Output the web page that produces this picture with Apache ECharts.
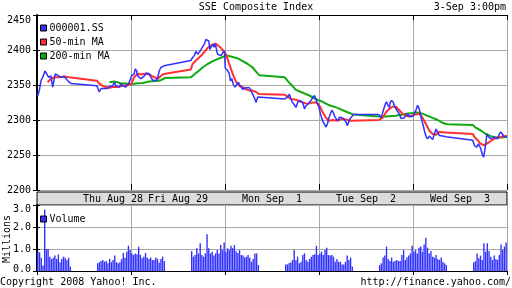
<!DOCTYPE html>
<html>
<head>
<meta charset="utf-8">
<script src="https://cdn.jsdelivr.net/npm/echarts@6/dist/echarts.min.js"></script>
<style>
  html, body { margin: 0; padding: 0; background: #fff; }
  #chart { width: 512px; height: 288px; }
</style>
</head>
<body>
<div id="chart"></div>
<script>
// trading days shown, session 09:30-15:00 (lunch 11:30-13:00)
const dayKeys = ["Thu", "Fri", "Mon", "Tue", "Wed"];
const dayLabels = ["Thu Aug 28", "Fri Aug 29", "Mon Sep  1", "Tue Sep  2", "Wed Sep  3"];
const priceTicks = [2200, 2250, 2300, 2350, 2400, 2450];
const volumeTicks = [0, 1, 2, 3];

// 000001.SS index level
const price = [
  ["Thu 09:30", 2338], ["Thu 09:33", 2335], ["Thu 09:38", 2342], ["Thu 09:44", 2356], ["Thu 09:52", 2363],
  ["Thu 09:58", 2370], ["Thu 10:04", 2366], ["Thu 10:11", 2361], ["Thu 10:19", 2363], ["Thu 10:25", 2347],
  ["Thu 10:34", 2366], ["Thu 10:39", 2368], ["Thu 10:46", 2363], ["Thu 10:54", 2361], ["Thu 11:06", 2362],
  ["Thu 11:12", 2361], ["Thu 11:18", 2356], ["Thu 11:23", 2354], ["Thu 11:30", 2352],
  ["Thu 13:00", 2349], ["Thu 13:09", 2340], ["Thu 13:15", 2345], ["Thu 13:20", 2347], ["Thu 13:26", 2345],
  ["Thu 13:32", 2347], ["Thu 13:38", 2345], ["Thu 13:44", 2348], ["Thu 13:50", 2347], ["Thu 13:56", 2349],
  ["Thu 14:01", 2354], ["Thu 14:07", 2349], ["Thu 14:13", 2347], ["Thu 14:19", 2347], ["Thu 14:25", 2352],
  ["Thu 14:31", 2349], ["Thu 14:37", 2351], ["Thu 14:42", 2347], ["Thu 14:48", 2349], ["Thu 14:54", 2354],
  ["Thu 15:00", 2352],
  ["Fri 09:32", 2363], ["Fri 09:36", 2361], ["Fri 09:41", 2366], ["Fri 09:45", 2373], ["Fri 09:50", 2370],
  ["Fri 09:53", 2363], ["Fri 09:59", 2361], ["Fri 10:05", 2359], ["Fri 10:11", 2361], ["Fri 10:17", 2363],
  ["Fri 10:23", 2367], ["Fri 10:29", 2365], ["Fri 10:34", 2366], ["Fri 10:40", 2361], ["Fri 10:46", 2357],
  ["Fri 10:52", 2355], ["Fri 10:58", 2356], ["Fri 11:04", 2361], ["Fri 11:09", 2370], ["Fri 11:15", 2375],
  ["Fri 11:21", 2377], ["Fri 11:30", 2378],
  ["Fri 13:00", 2385], ["Fri 13:06", 2389], ["Fri 13:12", 2392], ["Fri 13:18", 2398], ["Fri 13:24", 2394],
  ["Fri 13:30", 2397], ["Fri 13:36", 2401], ["Fri 13:41", 2399], ["Fri 13:47", 2408], ["Fri 13:53", 2415],
  ["Fri 13:59", 2415], ["Fri 14:03", 2413], ["Fri 14:07", 2401], ["Fri 14:11", 2404], ["Fri 14:17", 2408],
  ["Fri 14:22", 2404], ["Fri 14:26", 2409], ["Fri 14:31", 2399], ["Fri 14:34", 2394], ["Fri 14:40", 2396],
  ["Fri 14:46", 2392], ["Fri 14:52", 2396], ["Fri 14:58", 2399], ["Fri 15:00", 2399],
  ["Mon 09:31", 2374], ["Mon 09:39", 2371], ["Mon 09:45", 2366], ["Mon 09:49", 2356], ["Mon 09:54", 2359],
  ["Mon 09:59", 2351], ["Mon 10:05", 2347], ["Mon 10:11", 2349], ["Mon 10:17", 2354], ["Mon 10:20", 2351],
  ["Mon 10:26", 2349], ["Mon 10:32", 2344], ["Mon 10:38", 2342], ["Mon 10:44", 2346], ["Mon 10:50", 2344],
  ["Mon 10:56", 2346], ["Mon 11:01", 2342], ["Mon 11:07", 2337], ["Mon 11:13", 2332], ["Mon 11:19", 2325],
  ["Mon 11:25", 2333], ["Mon 11:30", 2332],
  ["Mon 13:00", 2330], ["Mon 13:04", 2332], ["Mon 13:10", 2333], ["Mon 13:16", 2337], ["Mon 13:21", 2330],
  ["Mon 13:27", 2325], ["Mon 13:33", 2322], ["Mon 13:39", 2318], ["Mon 13:45", 2325], ["Mon 13:51", 2328],
  ["Mon 13:57", 2329], ["Mon 14:03", 2325], ["Mon 14:09", 2316], ["Mon 14:14", 2320], ["Mon 14:20", 2320],
  ["Mon 14:26", 2325], ["Mon 14:32", 2328], ["Mon 14:38", 2332], ["Mon 14:44", 2335], ["Mon 14:49", 2330],
  ["Mon 14:55", 2323], ["Mon 15:00", 2318],
  ["Tue 09:31", 2318], ["Tue 09:35", 2309], ["Tue 09:40", 2302], ["Tue 09:45", 2297], ["Tue 09:51", 2295],
  ["Tue 09:55", 2290], ["Tue 10:00", 2295], ["Tue 10:04", 2302], ["Tue 10:09", 2304], ["Tue 10:15", 2314],
  ["Tue 10:20", 2311], ["Tue 10:24", 2306], ["Tue 10:30", 2302], ["Tue 10:36", 2299], ["Tue 10:42", 2304],
  ["Tue 10:47", 2306], ["Tue 10:53", 2303], ["Tue 10:59", 2302], ["Tue 11:05", 2297], ["Tue 11:09", 2292],
  ["Tue 11:14", 2297], ["Tue 11:19", 2302], ["Tue 11:26", 2305], ["Tue 11:30", 2308],
  ["Tue 13:00", 2308], ["Tue 13:08", 2303], ["Tue 13:11", 2305], ["Tue 13:16", 2314], ["Tue 13:23", 2323],
  ["Tue 13:27", 2326], ["Tue 13:32", 2321], ["Tue 13:37", 2318], ["Tue 13:40", 2325], ["Tue 13:45", 2328],
  ["Tue 13:51", 2325], ["Tue 13:54", 2321], ["Tue 14:00", 2316], ["Tue 14:06", 2314], ["Tue 14:12", 2309],
  ["Tue 14:18", 2302], ["Tue 14:23", 2301], ["Tue 14:29", 2303], ["Tue 14:35", 2306], ["Tue 14:41", 2309],
  ["Tue 14:47", 2305], ["Tue 14:53", 2303], ["Tue 15:00", 2305],
  ["Wed 09:35", 2309], ["Wed 09:40", 2314], ["Wed 09:46", 2321], ["Wed 09:50", 2318], ["Wed 09:55", 2311],
  ["Wed 09:59", 2302], ["Wed 10:04", 2295], ["Wed 10:10", 2285], ["Wed 10:16", 2276], ["Wed 10:21", 2273],
  ["Wed 10:27", 2277], ["Wed 10:33", 2278], ["Wed 10:39", 2272], ["Wed 10:45", 2280], ["Wed 10:51", 2287],
  ["Wed 10:56", 2288], ["Wed 11:02", 2278], ["Wed 11:14", 2277], ["Wed 11:26", 2276], ["Wed 11:30", 2276],
  ["Wed 13:00", 2271], ["Wed 13:05", 2264], ["Wed 13:08", 2266], ["Wed 13:13", 2261], ["Wed 13:20", 2266],
  ["Wed 13:25", 2268], ["Wed 13:28", 2259], ["Wed 13:34", 2250], ["Wed 13:38", 2247], ["Wed 13:42", 2257],
  ["Wed 13:46", 2268], ["Wed 13:49", 2280], ["Wed 13:55", 2276], ["Wed 14:00", 2278], ["Wed 14:03", 2273],
  ["Wed 14:09", 2271], ["Wed 14:15", 2276], ["Wed 14:21", 2278], ["Wed 14:27", 2273], ["Wed 14:33", 2280],
  ["Wed 14:38", 2283], ["Wed 14:44", 2280], ["Wed 14:50", 2276], ["Wed 14:56", 2276], ["Wed 15:00", 2276]
];

// 50-min moving average
const ma50 = [
  ["Thu 10:07", 2354], ["Thu 10:19", 2359], ["Thu 10:31", 2361], ["Thu 10:48", 2361], ["Thu 11:06", 2362],
  ["Thu 11:23", 2361], ["Thu 11:30", 2360], ["Thu 13:00", 2356], ["Thu 13:09", 2352], ["Thu 13:20", 2349],
  ["Thu 13:32", 2347], ["Thu 13:44", 2346], ["Thu 13:56", 2347], ["Thu 14:13", 2347], ["Thu 14:31", 2349],
  ["Thu 14:48", 2350], ["Thu 15:00", 2351],
  ["Fri 09:41", 2361], ["Fri 09:53", 2366], ["Fri 10:05", 2365], ["Fri 10:17", 2366], ["Fri 10:34", 2365],
  ["Fri 10:52", 2361], ["Fri 11:04", 2359], ["Fri 11:21", 2365], ["Fri 11:30", 2366], ["Fri 13:00", 2372],
  ["Fri 13:06", 2380], ["Fri 13:18", 2385], ["Fri 13:41", 2394], ["Fri 13:59", 2403], ["Fri 14:17", 2408],
  ["Fri 14:28", 2409], ["Fri 14:46", 2403], ["Fri 14:58", 2397], ["Fri 15:00", 2396],
  ["Mon 09:33", 2394], ["Mon 09:45", 2380], ["Mon 09:57", 2366], ["Mon 10:09", 2354], ["Mon 10:20", 2349],
  ["Mon 10:32", 2347], ["Mon 10:44", 2344], ["Mon 10:56", 2342], ["Mon 11:07", 2342], ["Mon 11:19", 2340],
  ["Mon 11:30", 2337], ["Mon 13:00", 2336], ["Mon 13:10", 2333], ["Mon 13:21", 2330], ["Mon 13:39", 2329],
  ["Mon 14:03", 2325], ["Mon 14:20", 2323], ["Mon 14:38", 2325], ["Mon 14:49", 2325], ["Mon 15:00", 2322],
  ["Tue 09:43", 2311], ["Tue 09:55", 2303], ["Tue 10:06", 2299], ["Tue 10:18", 2300], ["Tue 10:36", 2299],
  ["Tue 10:53", 2302], ["Tue 11:11", 2300], ["Tue 11:23", 2299], ["Tue 11:30", 2299], ["Tue 13:00", 2300],
  ["Tue 13:13", 2303], ["Tue 13:25", 2311], ["Tue 13:37", 2316], ["Tue 13:48", 2319], ["Tue 14:00", 2319],
  ["Tue 14:12", 2314], ["Tue 14:23", 2309], ["Tue 14:35", 2306], ["Tue 14:47", 2305], ["Tue 15:00", 2307],
  ["Wed 09:40", 2308], ["Wed 09:52", 2309], ["Wed 10:04", 2303], ["Wed 10:16", 2294], ["Wed 10:27", 2285],
  ["Wed 10:39", 2280], ["Wed 10:51", 2279], ["Wed 11:02", 2283], ["Wed 11:26", 2282], ["Wed 11:30", 2282],
  ["Wed 13:00", 2280], ["Wed 13:05", 2276], ["Wed 13:17", 2271], ["Wed 13:28", 2266], ["Wed 13:40", 2264],
  ["Wed 13:52", 2267], ["Wed 14:03", 2270], ["Wed 14:15", 2273], ["Wed 14:27", 2275], ["Wed 14:38", 2276],
  ["Wed 14:56", 2277], ["Wed 15:00", 2277]
];

// 200-min moving average
const ma200 = [
  ["Thu 13:44", 2354], ["Thu 14:01", 2355], ["Thu 14:13", 2354], ["Thu 14:25", 2352], ["Thu 14:42", 2352],
  ["Thu 15:00", 2351],
  ["Fri 09:47", 2352], ["Fri 10:11", 2353], ["Fri 10:34", 2355], ["Fri 11:09", 2356], ["Fri 11:30", 2360],
  ["Fri 13:00", 2361], ["Fri 13:12", 2365], ["Fri 13:18", 2367], ["Fri 13:30", 2371], ["Fri 13:41", 2375],
  ["Fri 13:59", 2380], ["Fri 14:17", 2384], ["Fri 14:34", 2387], ["Fri 14:52", 2390], ["Fri 15:00", 2391],
  ["Mon 09:39", 2392], ["Mon 09:57", 2390], ["Mon 10:15", 2388], ["Mon 10:32", 2384], ["Mon 10:50", 2380],
  ["Mon 11:07", 2375], ["Mon 11:19", 2369], ["Mon 11:30", 2364], ["Mon 13:00", 2361], ["Mon 13:10", 2356],
  ["Mon 13:21", 2351], ["Mon 13:39", 2343], ["Mon 14:03", 2339], ["Mon 14:26", 2335], ["Mon 14:49", 2330],
  ["Mon 15:00", 2328],
  ["Tue 09:43", 2326], ["Tue 10:06", 2321], ["Tue 10:30", 2318], ["Tue 10:53", 2314], ["Tue 11:17", 2310],
  ["Tue 11:30", 2308], ["Tue 13:00", 2305], ["Tue 13:25", 2305], ["Tue 14:00", 2306], ["Tue 14:35", 2309],
  ["Tue 15:00", 2310],
  ["Wed 09:40", 2311], ["Wed 10:04", 2309], ["Wed 10:21", 2306], ["Wed 10:39", 2303], ["Wed 10:57", 2300],
  ["Wed 11:14", 2296], ["Wed 11:30", 2294], ["Wed 13:00", 2293], ["Wed 13:10", 2289], ["Wed 13:28", 2285],
  ["Wed 13:46", 2280], ["Wed 14:03", 2277], ["Wed 14:21", 2275], ["Wed 14:44", 2275], ["Wed 14:56", 2276],
  ["Wed 15:00", 2276]
];

// volume in millions, 6-minute bars: 20 morning bars then 20 afternoon bars per day
const volThu = [0.9, 0.85, 0.6, 0.25, 2.8, 1.0, 1.0, 0.65, 0.55, 0.6, 0.7, 0.55, 0.75, 0.4, 0.55, 0.65, 0.6, 0.5, 0.6, 0.2,
                0.35, 0.4, 0.45, 0.5, 0.42, 0.45, 0.35, 0.55, 0.4, 0.5, 0.7, 0.4, 0.35, 0.4, 0.55, 0.82, 0.6, 0.88, 1.15, 0.95];
const volFri = [0.8, 0.73, 0.8, 0.76, 1.1, 0.73, 0.58, 0.65, 0.82, 0.61, 0.55, 0.61, 0.5, 0.5, 0.61, 0.55, 0.39, 0.55, 0.65, 0.45,
                0.9, 0.65, 0.73, 1.03, 0.8, 1.26, 0.73, 0.65, 0.8, 1.67, 1.03, 0.8, 0.88, 0.7, 0.8, 0.95, 0.8, 1.18, 0.95, 1.3];
const volMon = [0.88, 1.03, 0.95, 1.15, 1.03, 1.18, 0.9, 0.82, 0.95, 0.73, 0.7, 0.62, 0.65, 0.73, 0.6, 0.42, 0.55, 0.8, 0.8, 0.27,
                0.3, 0.3, 0.35, 0.39, 0.5, 0.95, 0.5, 0.65, 0.35, 0.42, 0.73, 0.8, 0.5, 0.42, 0.55, 0.65, 0.73, 0.76, 1.15, 0.73];
const volTue = [0.8, 0.88, 0.73, 0.95, 1.06, 0.73, 0.7, 0.73, 0.65, 0.42, 0.55, 0.42, 0.42, 0.3, 0.3, 0.42, 0.7, 0.5, 0.61, 0.2,
                0.27, 0.35, 0.61, 0.7, 1.11, 0.55, 0.45, 0.61, 0.42, 0.45, 0.5, 0.45, 0.45, 0.73, 0.95, 0.5, 0.61, 0.7, 0.8, 1.15];
const volWed = [0.88, 0.95, 0.8, 1.06, 1.11, 0.88, 1.21, 1.51, 1.06, 0.8, 0.91, 0.65, 0.61, 0.73, 0.55, 0.5, 0.61, 0.42, 0.35, 0.27,
                0.39, 0.45, 0.8, 0.58, 0.7, 0.5, 1.26, 0.88, 1.26, 0.91, 0.65, 0.5, 0.7, 0.55, 0.5, 0.73, 1.21, 0.95, 1.11, 1.3];
const volumeByDay = [volThu, volFri, volMon, volTue, volWed];

const FONT = '"DejaVu Sans Mono", monospace';
const BLUE = "#3030ff", RED = "#ff3030", GREEN = "#10aa10", GRIDC = "#aaaaaa";
const DAY_HOURS = 5.5;   // 09:30 - 15:00 on one axis unit block

// "Thu 10:30" -> hours on the compressed trading axis
function xOf(stamp) {
  const [d, t] = stamp.split(" ");
  const [h, m] = t.split(":").map(Number);
  return dayKeys.indexOf(d) * DAY_HOURS + h + m / 60 - 9.5;
}
const toXY = arr => arr.map(([s, v]) => [xOf(s), v]);

const volumeData = [];
volumeByDay.forEach((vals, d) => {
  vals.forEach((v, i) => {
    const start = i < 20 ? 0 : 3.5;           // morning 09:30, afternoon 13:00
    volumeData.push([d * DAY_HOURS + start + ((i % 20) * 6 + 3) / 60, v]);
  });
});

const txt = { fontFamily: FONT, fontSize: 10, color: "#000" };

const chart = echarts.init(document.getElementById("chart"), null, { renderer: "canvas" });

chart.setOption({
  animation: false,
  backgroundColor: "#fff",
  title: [
    { text: "SSE Composite Index", left: "center", top: 2, padding: 0, textStyle: { ...txt, fontWeight: "normal" } },
    { text: "3-Sep 3:00pm", right: 6, top: 2, padding: 0, textStyle: { ...txt, fontWeight: "normal" } },
    { text: "Copyright 2008 Yahoo! Inc.", left: 0, top: 277, padding: 0, textStyle: { ...txt, fontWeight: "normal" } },
    { text: "http://finance.yahoo.com/", right: 1, top: 277, padding: 0, textStyle: { ...txt, fontWeight: "normal" } }
  ],
  graphic: [
    { type: "text", x: 7, y: 239, rotation: Math.PI / 2,
      style: { text: "Millions", font: '10px "DejaVu Sans Mono"', fill: "#000", align: "center", verticalAlign: "middle" } }
  ],
  legend: [
    {
      data: ["000001.SS", "50-min MA", "200-min MA"],
      orient: "vertical", left: 40, top: 23, padding: 0,
      itemWidth: 6, itemHeight: 6, itemGap: 4, icon: "rect",
      itemStyle: { borderColor: "#000", borderWidth: 1 },
      textStyle: { ...txt, padding: [0, 0, 0, -2] }
    },
    {
      data: ["Volume"],
      left: 40, top: 214, padding: 0,
      itemWidth: 6, itemHeight: 6, icon: "rect",
      itemStyle: { borderColor: "#000", borderWidth: 1 },
      textStyle: { ...txt, padding: [0, 0, 0, -2] }
    }
  ],
  grid: [
    { left: 37, top: 15, width: 470, height: 175, outerBoundsMode: "none" },
    { left: 37, top: 192, width: 470, height: 13, outerBoundsMode: "none",
      show: true, backgroundColor: "#dcdcdc", borderColor: "#000", borderWidth: 1 },
    { left: 37, top: 205, width: 470, height: 66, outerBoundsMode: "none" }
  ],
  xAxis: [
    { gridIndex: 0, type: "value", min: 0, max: 27.5, interval: 5.5, position: "bottom",
      axisLine: { show: false }, axisLabel: { show: false },
      axisTick: { show: true, inside: true, length: 6, lineStyle: { color: "#000" } },
      splitLine: { show: true, lineStyle: { color: GRIDC } } },
    { gridIndex: 0, type: "value", min: 0, max: 27.5, interval: 5.5, position: "top",
      axisLine: { show: true, lineStyle: { color: "#000" } }, axisLabel: { show: false },
      axisTick: { show: true, inside: true, length: 5, lineStyle: { color: "#000" } },
      splitLine: { show: false } },
    { gridIndex: 1, type: "category", data: dayLabels, position: "bottom",
      axisLine: { show: false }, axisTick: { show: false },
      axisLabel: { ...txt, interval: 0, margin: -11,
        formatter: (v, i) => i === 0 ? "{s|" + v + "}" : v,
        rich: { s: { ...txt, padding: [0, 0, 0, 58] } } } },
    { gridIndex: 2, type: "value", min: 0, max: 27.5, interval: 5.5, position: "bottom",
      axisLine: { show: true, lineStyle: { color: "#000" } }, axisLabel: { show: false },
      axisTick: { show: false },
      splitLine: { show: true, lineStyle: { color: GRIDC } } },
    { gridIndex: 2, type: "value", min: 0, max: 27.5, interval: 5.5, position: "top",
      axisLine: { show: false }, axisLabel: { show: false },
      axisTick: { show: true, inside: true, length: 4, lineStyle: { color: "#000" } },
      splitLine: { show: false } }
  ],
  yAxis: [
    { gridIndex: 0, type: "value", min: priceTicks[0], max: priceTicks[priceTicks.length - 1], interval: 50,
      axisLine: { show: true, lineStyle: { color: "#000", width: 2 } },
      axisTick: { show: true, length: 4, lineStyle: { color: "#000" } },
      axisLabel: { ...txt, margin: 6,
        formatter: v => v === 2450 ? "{t|" + v + "}" : String(v),
        rich: { t: { ...txt, padding: [10, 0, 0, 0] } } },
      splitLine: { show: true, lineStyle: { color: GRIDC } } },
    { gridIndex: 0, type: "value", position: "right", min: priceTicks[0], max: priceTicks[priceTicks.length - 1], interval: 50,
      axisLine: { show: true, lineStyle: { color: "#000" } },
      axisTick: { show: true, length: 3, lineStyle: { color: "#000" } },
      axisLabel: { show: false }, splitLine: { show: false } },
    { gridIndex: 1, type: "value", show: false },
    { gridIndex: 2, type: "value", min: volumeTicks[0], max: volumeTicks[volumeTicks.length - 1], interval: 1,
      axisLine: { show: true, lineStyle: { color: "#000", width: 2 } },
      axisTick: { show: true, length: 4, lineStyle: { color: "#000" } },
      axisLabel: { ...txt, margin: 6,
        formatter: v => v === 3 ? "{t|3.0}" : v === 0 ? "{b|0.0}" : v.toFixed(1),
        rich: { t: { ...txt, padding: [8, 0, 0, 0] }, b: { ...txt, padding: [0, 0, 4, 0] } } },
      splitLine: { show: true, lineStyle: { color: GRIDC } } },
    { gridIndex: 2, type: "value", position: "right", min: 0, max: 3, interval: 1,
      axisLine: { show: true, lineStyle: { color: "#000" } },
      axisTick: { show: true, length: 3, lineStyle: { color: "#000" } },
      axisLabel: { show: false }, splitLine: { show: false } }
  ],
  series: [
    { name: "200-min MA", type: "line", xAxisIndex: 0, yAxisIndex: 0, data: toXY(ma200),
      color: GREEN, showSymbol: false, lineStyle: { width: 2, color: GREEN } },
    { name: "50-min MA", type: "line", xAxisIndex: 0, yAxisIndex: 0, data: toXY(ma50),
      color: RED, showSymbol: false, lineStyle: { width: 2, color: RED } },
    { name: "000001.SS", type: "line", xAxisIndex: 0, yAxisIndex: 0, data: toXY(price),
      color: BLUE, showSymbol: false, lineStyle: { width: 1.5, color: BLUE } },
    { name: "Volume", type: "custom", xAxisIndex: 3, yAxisIndex: 3, data: volumeData,
      color: BLUE, encode: { x: 0, y: 1 },
      renderItem: (params, api) => {
        const top = api.coord([api.value(0), api.value(1)]);
        const base = api.coord([api.value(0), 0]);
        const w = api.size([0.1, 0])[0] * 0.8;
        return { type: "rect",
          shape: { x: top[0] - w / 2, y: top[1], width: w, height: base[1] - top[1] },
          style: { fill: BLUE } };
      } }
  ]
});
</script>
</body>
</html>
